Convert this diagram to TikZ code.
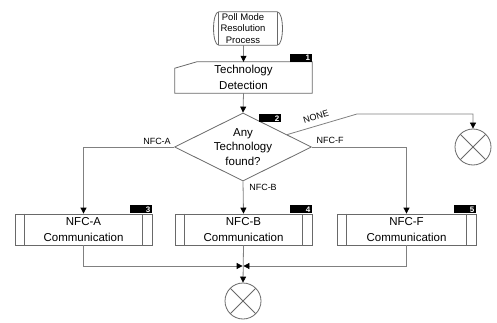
\documentclass[tikz,border=0pt]{standalone}
\usepackage{fontspec}
\setmainfont{Liberation Sans}
\usetikzlibrary{arrows.meta,shapes.geometric,calc}
\definecolor{ln}{RGB}{128,128,128}
\definecolor{bx}{RGB}{105,105,105}
\begin{document}
\begin{tikzpicture}[x=1pt,y=-1pt,
  line/.style={draw=ln,line width=0.8pt},
  arr/.style={line,-{Triangle[length=6pt,width=6pt,color=black]}},
  outl/.style={draw=bx,line width=0.8pt},
  txt/.style={font=\fontsize{11.5}{15.5}\selectfont,align=center,inner sep=0pt},
  box/.style={txt,outl,minimum width=137pt,minimum height=31pt},
  tab/.style={fill=black,text=white,font=\fontsize{8}{8}\selectfont\bfseries,minimum height=8pt,inner ysep=0pt,inner xsep=2pt,text width=18pt,align=right,anchor=south east},
  lbl/.style={font=\fontsize{9}{9}\selectfont,inner sep=0pt},
  endc/.style={circle,outl,minimum size=36pt,inner sep=0pt,path picture={\draw[bx,line width=0.8pt] (path picture bounding box.north west) -- (path picture bounding box.south east) (path picture bounding box.south west) -- (path picture bounding box.north east);}}
]
\useasboundingbox (0,0) rectangle (497,323);

% start terminal
\node[minimum width=58pt,minimum height=33pt,inner sep=0pt] (start) at (248,28.5) {};
\draw[outl] (start.north west) -- (start.north east) .. controls +(7,0) and +(7,0) .. (start.south east) -- (start.south west) .. controls +(-7,0) and +(-7,0) .. (start.north west);
\draw[outl] (start.north west) -- (start.south west) (start.north east) -- (start.south east);
\node[font=\fontsize{9.5}{11.6}\selectfont,align=center,inner sep=0pt] (starttxt) at (243,28.5) {Poll Mode\\Resolution\\Process};

% technology detection (manual input)
\node[txt,minimum width=137pt,minimum height=31pt] (tech) at (243.5,77.5) {Technology\\Detection};
\draw[outl] (tech.north east) -- (tech.south east) -- (tech.south west) -- ($(tech.south west)+(0,-25)$) -- ([xshift=22pt]tech.north west) -- cycle;
\node[tab] (t1) at (tech.north east) {1};

% decision
\node[diamond,outl,minimum width=137pt,minimum height=68pt,inner sep=0pt] (dec) at (243,147) {};
\node[txt,font=\fontsize{11.5}{14.5}\selectfont] (dectxt) at (dec.center) {Any\\Technology\\found?};
\node[tab,anchor=south west] (t2) at ($(dec.north)+(16,10)$) {2};

% communication boxes
\node[box] (A) at (83.5,229.5) {NFC-A\\Communication};
\node[box] (B) at (243.5,229.5) {NFC-B\\Communication};
\node[box,minimum width=139pt] (F) at (406.5,229.5) {NFC-F\\Communication};
\foreach \n in {A,B,F} {
  \draw[outl] ([xshift=10pt]\n.north west) -- ([xshift=10pt]\n.south west);
  \draw[outl] ([xshift=-10pt]\n.north east) -- ([xshift=-10pt]\n.south east);
}
\node[tab] (t3) at (A.north east) {3};
\node[tab] (t4) at (B.north east) {4};
\node[tab] (t5) at (F.north east) {5};

% end circles
\node[endc] (c1) at (473,147) {};
\node[endc] (c2) at (243,301) {};

% connectors
\draw[arr] (start.south -| tech.north) -- (tech.north);
\draw[arr] (tech.south) -- (dec.north);
\coordinate (nb) at (357,114);
\coordinate (ns) at ($(dec.north)!0.64!(dec.east)$);
\draw[arr] (ns) -- (nb) -| (c1.north);
\draw[arr] (dec.east) -| (F.north);
\draw[arr] (dec.west) -| (A.north);
\draw[arr] (dec.south) -- (B.north);
\coordinate (j) at (243,266);
\draw[arr] (A.south) |- ([xshift=-0.4pt]j);
\draw[arr] (F.south) |- ([xshift=0.4pt]j);
\draw[arr] (B.south) -- (c2.north);

% labels
\node[lbl,rotate=16.7] (lnone) at (316,117) {NONE};
\node[lbl] (la) at (157,141.5) {NFC-A};
\node[lbl] (lf) at (330,140) {NFC-F};
\node[lbl] (lb) at (263,187.5) {NFC-B};
\end{tikzpicture}
\end{document}
